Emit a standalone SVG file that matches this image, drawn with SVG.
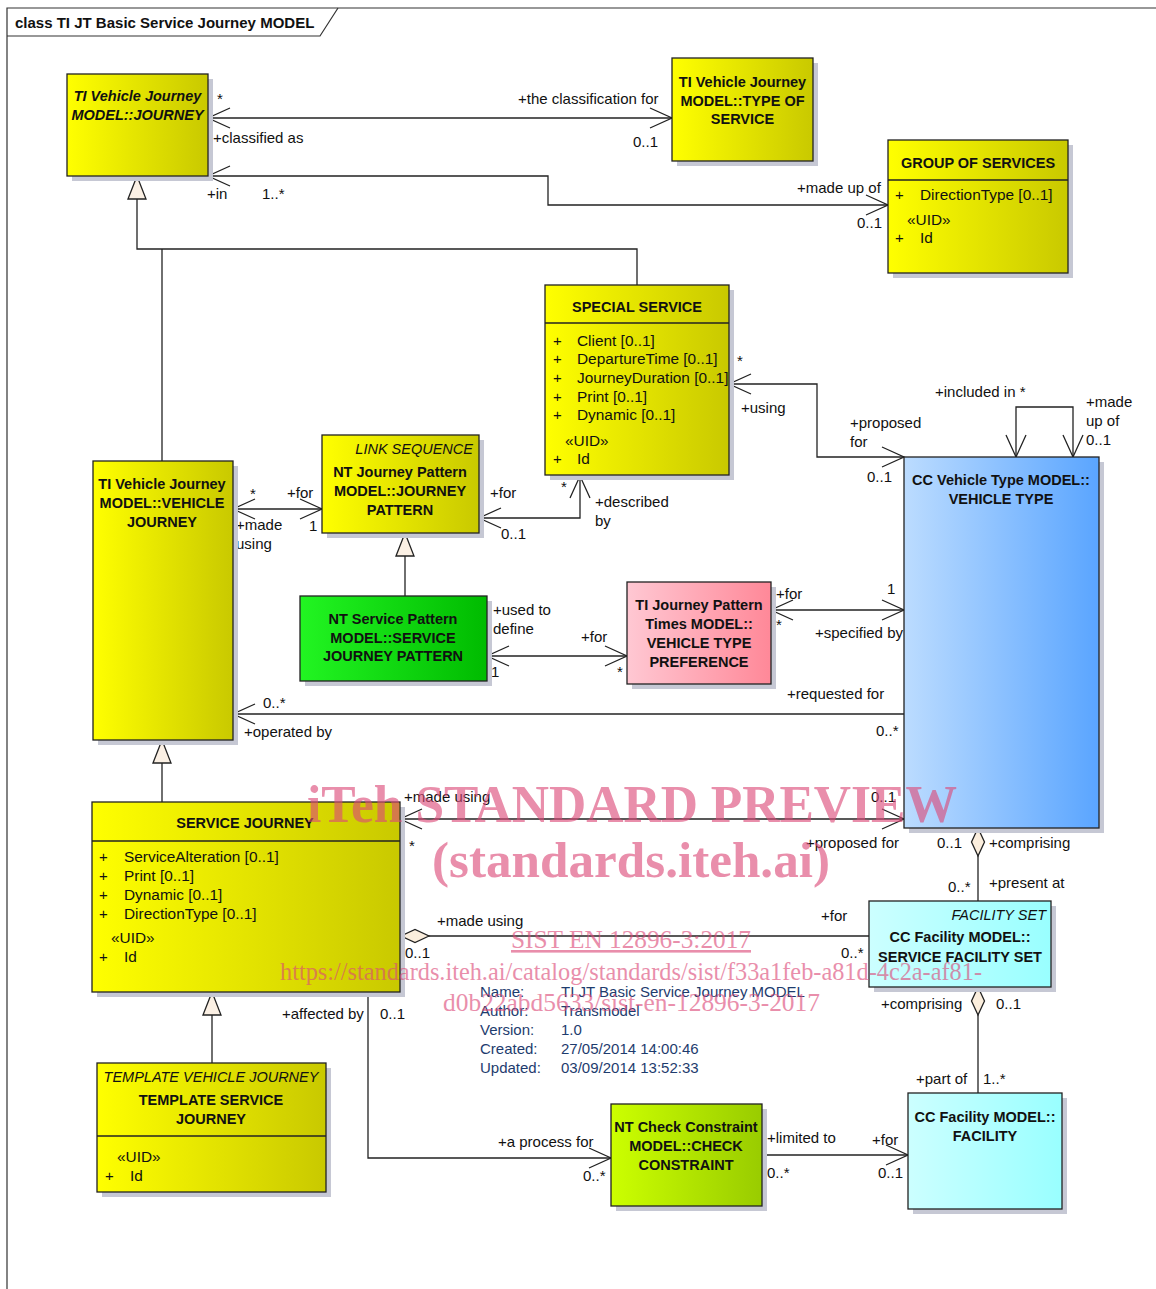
<svg xmlns="http://www.w3.org/2000/svg" width="1156" height="1289" viewBox="0 0 1156 1289">
  <defs>
    <linearGradient id="gYellow" x1="0" y1="0" x2="1" y2="0">
      <stop offset="0" stop-color="#ffff00"/>
      <stop offset="1" stop-color="#c9c900"/>
    </linearGradient>
    <linearGradient id="gGreen" x1="0" y1="0" x2="1" y2="0">
      <stop offset="0" stop-color="#22f522"/>
      <stop offset="1" stop-color="#00bb00"/>
    </linearGradient>
    <linearGradient id="gPink" x1="0" y1="0" x2="1" y2="0">
      <stop offset="0" stop-color="#ffc8d3"/>
      <stop offset="1" stop-color="#ff8898"/>
    </linearGradient>
    <linearGradient id="gBlue" x1="0" y1="0" x2="1" y2="0">
      <stop offset="0" stop-color="#bcdcff"/>
      <stop offset="1" stop-color="#5aa5ff"/>
    </linearGradient>
    <linearGradient id="gCyan" x1="0" y1="0" x2="1" y2="0">
      <stop offset="0" stop-color="#ccffff"/>
      <stop offset="1" stop-color="#99ffff"/>
    </linearGradient>
    <linearGradient id="gLime" x1="0" y1="0" x2="1" y2="0">
      <stop offset="0" stop-color="#ccff00"/>
      <stop offset="1" stop-color="#99cc00"/>
    </linearGradient>
    <!-- open navigability arrow -->
    <marker id="arr" markerUnits="userSpaceOnUse" markerWidth="26" markerHeight="24" refX="22" refY="10" orient="auto-start-reverse" overflow="visible">
      <path d="M0,0 L22,10 L0,20" fill="none" stroke="#222" stroke-width="1.3"/>
    </marker>
    <!-- aggregation diamond -->
    <marker id="dia" markerUnits="userSpaceOnUse" markerWidth="32" markerHeight="16" refX="29" refY="7" orient="auto-start-reverse" overflow="visible">
      <path d="M1,7 L15,0.5 L29,7 L15,13.5 Z" fill="#fbeedd" stroke="#222" stroke-width="1.3"/>
    </marker>
    <!-- generalization triangle -->
    <marker id="gen" markerUnits="userSpaceOnUse" markerWidth="26" markerHeight="20" refX="24" refY="9.5" orient="auto" overflow="visible">
      <path d="M1,0.5 L24,9.5 L1,18.5 Z" fill="#fbf0e4" stroke="#222" stroke-width="1.3"/>
    </marker>
  </defs>
  <style>
    text { font-family: "Liberation Sans", Arial, sans-serif; font-size: 15px; fill: #111; }
    .box { stroke: #222; stroke-width: 1.3; }
    .sh { fill: #c6c8d4; }
    .div { stroke: #222; stroke-width: 1.3; }
    .n { font-weight: bold; font-size: 14.5px; text-anchor: middle; }
    .ni { font-weight: bold; font-style: italic; font-size: 14.5px; text-anchor: middle; }
    .st { font-style: italic; font-size: 14.5px; }
    .at { font-size: 15.4px; }
    .end { text-anchor: end; }
    .mid { text-anchor: middle; }
    .c { fill: none; stroke: #222; stroke-width: 1.3; }
    .a2 { marker-start: url(#arr); marker-end: url(#arr); }
    .a1 { marker-end: url(#arr); }
    .a0 { marker-start: url(#arr); }
    .dm { marker-start: url(#dia); }
    .g { marker-end: url(#gen); }
    .note text { fill: #1e3c6e; }
    .wm text { font-family: "Liberation Serif", "Times New Roman", serif; fill: #dc4a78; }
    .wm .big { font-size: 52px; font-weight: bold; }
    .wm .big2 { font-size: 50px; font-weight: bold; }
    .wm .sm { font-size: 26px; }
  </style>

  <rect width="1156" height="1289" fill="#ffffff"/>

  <!-- diagram frame -->
  <g id="frame">
    <path d="M7,1289 V8 H1156" fill="none" stroke="#333" stroke-width="1.2"/>
    <path d="M7,36 H320 L338,8" fill="none" stroke="#333" stroke-width="1.2"/>
    <text x="15" y="28" font-weight="bold">class TI JT Basic Service Journey MODEL</text>
  </g>

  <!-- connectors -->
  <g id="connectors">
    <path class="c a2" d="M208,118 H672"/>
    <path class="c a2" d="M208,176 H548 V205 H888"/>
    <path class="c g" d="M637,285 V249 H137 V176"/>
    <path class="c" d="M162,461 V249"/>
    <path class="c a2" d="M233,509 H322"/>
    <path class="c a2" d="M479,518 H580 V476"/>
    <path class="c g" d="M405,596 V533"/>
    <path class="c a2" d="M487,656 H627"/>
    <path class="c a2" d="M771,610 H904"/>
    <path class="c a0" d="M233,714 H904"/>
    <path class="c a2" d="M729,384 H817 V457 H904"/>
    <path class="c a2" d="M1016,457 V407 H1073 V457"/>
    <path class="c a2" d="M400,819 H904"/>
    <path class="c dm" d="M978,828 V901"/>
    <path class="c dm" d="M401,936 H869"/>
    <path class="c dm" d="M978,987 V1093"/>
    <path class="c a1" d="M368,992 V1158 H611"/>
    <path class="c a1" d="M762,1155 H908"/>
    <path class="c g" d="M162,802 V740"/>
    <path class="c g" d="M212,1063 V992"/>

    <!-- role names and multiplicities -->
    <text x="217" y="104">*</text>
    <text x="213" y="143">+classified as</text>
    <text x="518" y="104">+the classification for</text>
    <text x="633" y="147">0..1</text>
    <text x="207" y="199">+in</text>
    <text x="262" y="199">1..*</text>
    <text x="797" y="193">+made up of</text>
    <text x="857" y="228">0..1</text>
    <text x="737" y="366">*</text>
    <text x="741" y="413">+using</text>
    <text x="850" y="428">+proposed</text>
    <text x="850" y="447">for</text>
    <text x="867" y="482">0..1</text>
    <text x="935" y="397">+included in *</text>
    <text x="1086" y="407">+made</text>
    <text x="1086" y="426">up of</text>
    <text x="1086" y="445">0..1</text>
    <text x="250" y="499">*</text>
    <text x="287" y="498">+for</text>
    <text x="236" y="530">+made</text>
    <text x="236" y="549">using</text>
    <text x="309" y="531">1</text>
    <text x="490" y="498">+for</text>
    <text x="501" y="539">0..1</text>
    <text x="561" y="492">*</text>
    <text x="595" y="507">+described</text>
    <text x="595" y="526">by</text>
    <text x="493" y="615">+used to</text>
    <text x="493" y="634">define</text>
    <text x="491" y="677">1</text>
    <text x="581" y="642">+for</text>
    <text x="617" y="677">*</text>
    <text x="776" y="599">+for</text>
    <text x="776" y="630">*</text>
    <text x="887" y="594">1</text>
    <text x="815" y="638">+specified by</text>
    <text x="263" y="708">0..*</text>
    <text x="244" y="737">+operated by</text>
    <text x="787" y="699">+requested for</text>
    <text x="876" y="736">0..*</text>
    <text x="404" y="802">+made using</text>
    <text x="409" y="851">*</text>
    <text x="871" y="802">0..1</text>
    <text x="806" y="848">+proposed for</text>
    <text x="937" y="848">0..1</text>
    <text x="989" y="848">+comprising</text>
    <text x="948" y="892">0..*</text>
    <text x="989" y="888">+present at</text>
    <text x="437" y="926">+made using</text>
    <text x="405" y="958">0..1</text>
    <text x="821" y="921">+for</text>
    <text x="841" y="958">0..*</text>
    <text x="881" y="1009">+comprising</text>
    <text x="996" y="1009">0..1</text>
    <text x="916" y="1084">+part of</text>
    <text x="983" y="1084">1..*</text>
    <text x="282" y="1019">+affected by</text>
    <text x="380" y="1019">0..1</text>
    <text x="498" y="1147">+a process for</text>
    <text x="583" y="1181">0..*</text>
    <text x="767" y="1143">+limited to</text>
    <text x="767" y="1178">0..*</text>
    <text x="872" y="1145">+for</text>
    <text x="878" y="1178">0..1</text>
  </g>

  <!-- classes -->
  <g id="journey">
    <rect class="sh" x="72" y="79" width="141" height="102"/>
    <rect class="box" x="67" y="74" width="141" height="102" fill="url(#gYellow)"/>
    <text class="ni" x="137.5" y="101">TI Vehicle Journey</text>
    <text class="ni" x="137.5" y="120">MODEL::JOURNEY</text>
  </g>

  <g id="type-of-service">
    <rect class="sh" x="677" y="63" width="141" height="103"/>
    <rect class="box" x="672" y="58" width="141" height="103" fill="url(#gYellow)"/>
    <text class="n" x="742.5" y="87">TI Vehicle Journey</text>
    <text class="n" x="742.5" y="105.5">MODEL::TYPE OF</text>
    <text class="n" x="742.5" y="124">SERVICE</text>
  </g>

  <g id="group-of-services">
    <rect class="sh" x="893" y="145" width="180" height="133"/>
    <rect class="box" x="888" y="140" width="180" height="133" fill="url(#gYellow)"/>
    <text class="n" x="978" y="168">GROUP OF SERVICES</text>
    <line class="div" x1="888" y1="180" x2="1068" y2="180"/>
    <text x="895" y="200">+</text>
    <text class="at" x="920" y="200">DirectionType [0..1]</text>
    <text class="at" x="907" y="225">«UID»</text>
    <text x="895" y="243">+</text>
    <text class="at" x="920" y="243">Id</text>
  </g>

  <g id="special-service">
    <rect class="sh" x="550" y="290" width="184" height="190"/>
    <rect class="box" x="545" y="285" width="184" height="190" fill="url(#gYellow)"/>
    <text class="n" x="637" y="312">SPECIAL SERVICE</text>
    <line class="div" x1="545" y1="323" x2="729" y2="323"/>
    <text x="553" y="345.5">+</text><text class="at" x="577" y="345.5">Client [0..1]</text>
    <text x="553" y="364">+</text><text class="at" x="577" y="364">DepartureTime [0..1]</text>
    <text x="553" y="383">+</text><text class="at" x="577" y="383">JourneyDuration [0..1]</text>
    <text x="553" y="401.5">+</text><text class="at" x="577" y="401.5">Print [0..1]</text>
    <text x="553" y="420">+</text><text class="at" x="577" y="420">Dynamic [0..1]</text>
    <text class="at" x="565" y="445.5">«UID»</text>
    <text x="553" y="464">+</text><text class="at" x="577" y="464">Id</text>
  </g>

  <g id="vehicle-journey">
    <rect class="sh" x="98" y="466" width="140" height="279"/>
    <rect class="box" x="93" y="461" width="140" height="279" fill="url(#gYellow)"/>
    <text class="n" x="162" y="489">TI Vehicle Journey</text>
    <text class="n" x="162" y="508">MODEL::VEHICLE</text>
    <text class="n" x="162" y="527">JOURNEY</text>
  </g>

  <g id="journey-pattern">
    <rect class="sh" x="327" y="440" width="157" height="98"/>
    <rect class="box" x="322" y="435" width="157" height="98" fill="url(#gYellow)"/>
    <text class="st end" x="473" y="454">LINK SEQUENCE</text>
    <text class="n" x="400" y="477">NT Journey Pattern</text>
    <text class="n" x="400" y="496">MODEL::JOURNEY</text>
    <text class="n" x="400" y="515">PATTERN</text>
  </g>

  <g id="service-journey-pattern">
    <rect class="sh" x="305" y="601" width="187" height="85"/>
    <rect class="box" x="300" y="596" width="187" height="85" fill="url(#gGreen)"/>
    <text class="n" x="393" y="624">NT Service Pattern</text>
    <text class="n" x="393" y="642.5">MODEL::SERVICE</text>
    <text class="n" x="393" y="661">JOURNEY PATTERN</text>
  </g>

  <g id="vehicle-type-preference">
    <rect class="sh" x="632" y="587" width="144" height="102"/>
    <rect class="box" x="627" y="582" width="144" height="102" fill="url(#gPink)"/>
    <text class="n" x="699" y="610">TI Journey Pattern</text>
    <text class="n" x="699" y="629">Times MODEL::</text>
    <text class="n" x="699" y="648">VEHICLE TYPE</text>
    <text class="n" x="699" y="667">PREFERENCE</text>
  </g>

  <g id="vehicle-type">
    <rect class="sh" x="909" y="462" width="195" height="371"/>
    <rect class="box" x="904" y="457" width="195" height="371" fill="url(#gBlue)"/>
    <text class="n" x="1001" y="485">CC Vehicle Type MODEL::</text>
    <text class="n" x="1001" y="504">VEHICLE TYPE</text>
  </g>

  <g id="service-journey">
    <rect class="sh" x="97" y="807" width="308" height="190"/>
    <rect class="box" x="92" y="802" width="308" height="190" fill="url(#gYellow)"/>
    <text class="n" x="245" y="828">SERVICE JOURNEY</text>
    <line class="div" x1="92" y1="841" x2="400" y2="841"/>
    <text x="99" y="862">+</text><text class="at" x="124" y="862">ServiceAlteration [0..1]</text>
    <text x="99" y="881">+</text><text class="at" x="124" y="881">Print [0..1]</text>
    <text x="99" y="900">+</text><text class="at" x="124" y="900">Dynamic [0..1]</text>
    <text x="99" y="919">+</text><text class="at" x="124" y="919">DirectionType [0..1]</text>
    <text class="at" x="111" y="943">«UID»</text>
    <text x="99" y="962">+</text><text class="at" x="124" y="962">Id</text>
  </g>

  <g id="service-facility-set">
    <rect class="sh" x="874" y="906" width="182" height="86"/>
    <rect class="box" x="869" y="901" width="182" height="86" fill="url(#gCyan)"/>
    <text class="st end" x="1046" y="920">FACILITY SET</text>
    <text class="n" x="960" y="942">CC Facility MODEL::</text>
    <text class="n" x="960" y="961.5">SERVICE FACILITY SET</text>
  </g>

  <g id="template-service-journey">
    <rect class="sh" x="102" y="1068" width="229" height="129"/>
    <rect class="box" x="97" y="1063" width="229" height="129" fill="url(#gYellow)"/>
    <text class="st mid" x="211" y="1082">TEMPLATE VEHICLE JOURNEY</text>
    <text class="n" x="211" y="1105">TEMPLATE SERVICE</text>
    <text class="n" x="211" y="1124">JOURNEY</text>
    <line class="div" x1="97" y1="1136" x2="326" y2="1136"/>
    <text class="at" x="117" y="1162">«UID»</text>
    <text x="105" y="1181">+</text><text class="at" x="130" y="1181">Id</text>
  </g>

  <g id="check-constraint">
    <rect class="sh" x="616" y="1109" width="151" height="102"/>
    <rect class="box" x="611" y="1104" width="151" height="102" fill="url(#gLime)"/>
    <text class="n" x="686" y="1132">NT Check Constraint</text>
    <text class="n" x="686" y="1151">MODEL::CHECK</text>
    <text class="n" x="686" y="1170">CONSTRAINT</text>
  </g>

  <g id="facility">
    <rect class="sh" x="913" y="1098" width="154" height="116"/>
    <rect class="box" x="908" y="1093" width="154" height="116" fill="url(#gCyan)"/>
    <text class="n" x="985" y="1122">CC Facility MODEL::</text>
    <text class="n" x="985" y="1141">FACILITY</text>
  </g>

  <!-- diagram properties note -->
  <g id="properties" class="note">
    <text x="480" y="997">Name:</text><text x="561" y="997">TI JT Basic Service Journey MODEL</text>
    <text x="480" y="1016">Author:</text><text x="561" y="1016">Transmodel</text>
    <text x="480" y="1035">Version:</text><text x="561" y="1035">1.0</text>
    <text x="480" y="1054">Created:</text><text x="561" y="1054">27/05/2014 14:00:46</text>
    <text x="480" y="1073">Updated:</text><text x="561" y="1073">03/09/2014 13:52:33</text>
  </g>

  <!-- stamped overlay text -->
  <g id="overlay" class="wm" opacity="0.62">
    <text class="big" x="307" y="822" textLength="650" lengthAdjust="spacingAndGlyphs">iTeh STANDARD PREVIEW</text>
    <text class="big2" x="432" y="877" textLength="398" lengthAdjust="spacingAndGlyphs">(standards.iteh.ai)</text>
    <text class="sm" x="511" y="948" text-decoration="underline" textLength="240" lengthAdjust="spacingAndGlyphs">SIST EN 12896-3:2017</text>
    <text class="sm" x="280" y="980" textLength="702" lengthAdjust="spacingAndGlyphs">https://standards.iteh.ai/catalog/standards/sist/f33a1feb-a81d-4c2a-af81-</text>
    <text class="sm" x="443" y="1011" textLength="377" lengthAdjust="spacingAndGlyphs">d0b22abd5633/sist-en-12896-3-2017</text>
  </g>
</svg>
